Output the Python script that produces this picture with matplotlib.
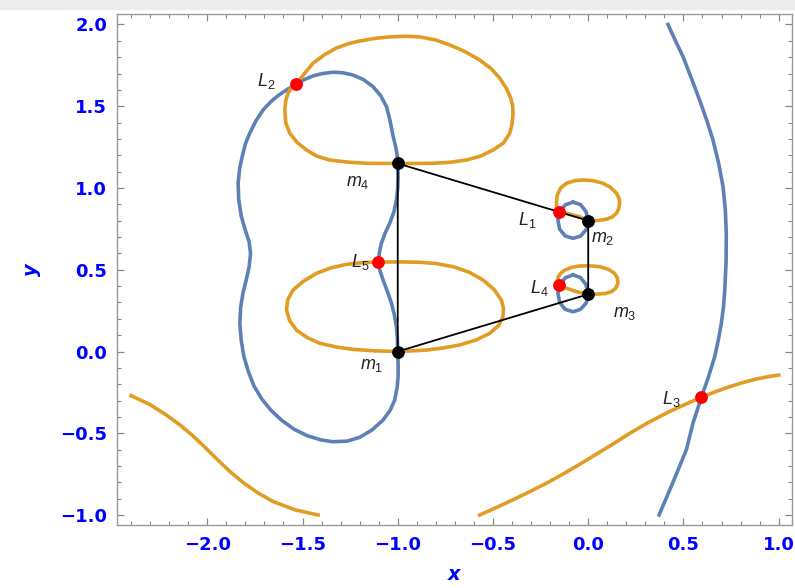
import matplotlib
matplotlib.use('Agg')
import matplotlib.pyplot as plt
from matplotlib.ticker import MultipleLocator
from matplotlib.patches import Rectangle

plt.rcParams['mathtext.fontset'] = 'custom'
plt.rcParams['mathtext.it'] = 'Liberation Sans:italic'
plt.rcParams['mathtext.rm'] = 'Liberation Sans'

# primaries (m1..m4) and equilibrium points (L1..L5)
m_x = [-1.0, 0.0, 0.0, -1.0]
m_y = [0.0, 0.8, 0.35, 1.15]
L_x = [-0.153, -1.532, 0.594, -0.153, -1.102]
L_y = [0.851, 1.634, -0.280, 0.407, 0.547]

# label positions
m_lab_x = [-1.138, 0.076, 0.192, -1.210]
m_lab_y = [-0.083, 0.694, 0.235, 1.039]
L_lab_x = [-0.318, -1.689, 0.437, -0.255, -1.199]
L_lab_y = [0.804, 1.654, -0.292, 0.388, 0.549]

# blue curve (first function)
blue_big_x = [-1.0, -1.003, -1.011, -1.025, -1.040, -1.059, -1.090, -1.130, -1.180, -1.235,
              -1.290, -1.340, -1.395, -1.445, -1.490, -1.532, -1.580, -1.625, -1.667, -1.707,
              -1.745, -1.777, -1.800, -1.815, -1.830, -1.838, -1.835, -1.822, -1.800, -1.780,
              -1.773, -1.780, -1.795, -1.812, -1.825, -1.829, -1.822, -1.808, -1.785, -1.755,
              -1.714, -1.665, -1.610, -1.545, -1.475, -1.405, -1.340, -1.265, -1.200, -1.135,
              -1.077, -1.040, -1.016, -1.003, -0.998, -0.998, -1.0, -1.002, -1.007, -1.018,
              -1.033, -1.055, -1.077, -1.095, -1.102, -1.097, -1.086, -1.066, -1.042, -1.020,
              -1.007, -1.000, -0.998, -1.0]
blue_big_y = [1.15, 1.20, 1.253, 1.320, 1.410, 1.497, 1.565, 1.620, 1.663, 1.691,
              1.705, 1.708, 1.700, 1.685, 1.663, 1.634, 1.603, 1.568, 1.527, 1.477,
              1.410, 1.335, 1.270, 1.200, 1.120, 1.030, 0.930, 0.830, 0.740, 0.670,
              0.600, 0.520, 0.440, 0.360, 0.270, 0.170, 0.070, -0.030, -0.120, -0.210,
              -0.290, -0.360, -0.420, -0.475, -0.515, -0.540, -0.552, -0.548, -0.525, -0.480,
              -0.419, -0.360, -0.297, -0.220, -0.154, -0.080, 0.0, 0.080, 0.152, 0.225,
              0.295, 0.370, 0.437, 0.500, 0.547, 0.600, 0.662, 0.725, 0.784, 0.855,
              0.927, 1.000, 1.069, 1.15]
blue_up_x = [-0.080, -0.041, -0.012, 0.0, -0.010, -0.040, -0.080, -0.121, -0.150, -0.159,
             -0.148, -0.119, -0.080]
blue_up_y = [0.913, 0.899, 0.857, 0.800, 0.746, 0.706, 0.692, 0.707, 0.748, 0.804,
             0.858, 0.898, 0.913]
blue_low_x = [-0.080, -0.041, -0.012, 0.0, -0.010, -0.040, -0.080, -0.121, -0.150, -0.159,
              -0.148, -0.119, -0.080]
blue_low_y = [0.468, 0.453, 0.410, 0.350, 0.298, 0.258, 0.243, 0.258, 0.300, 0.356,
              0.412, 0.452, 0.468]
blue_right_x = [0.419, 0.458, 0.498, 0.542, 0.585, 0.622, 0.655, 0.685, 0.708, 0.720,
                0.725, 0.724, 0.717, 0.710, 0.699, 0.683, 0.664, 0.629, 0.594, 0.572,
                0.550, 0.515, 0.445, 0.372]
blue_right_y = [2.0, 1.900, 1.803, 1.670, 1.538, 1.415, 1.294, 1.150, 1.008, 0.865,
                0.723, 0.550, 0.376, 0.270, 0.172, 0.070, -0.032, -0.164, -0.280, -0.360,
                -0.439, -0.602, -0.800, -1.0]

# orange curve (second function)
orange_top_x = [-1.532, -1.490, -1.445, -1.385, -1.322, -1.260, -1.199, -1.120, -1.042, -0.960,
                -0.885, -0.800, -0.727, -0.645, -0.570, -0.510, -0.465, -0.430, -0.407, -0.396,
                -0.395, -0.400, -0.412, -0.445, -0.500, -0.565, -0.639, -0.725, -0.815, -0.910,
                -1.0, -1.080, -1.164, -1.260, -1.357, -1.425, -1.479, -1.530, -1.567, -1.588,
                -1.593, -1.588, -1.576, -1.560, -1.532]
orange_top_y = [1.634, 1.700, 1.763, 1.815, 1.856, 1.882, 1.899, 1.915, 1.924, 1.928,
                1.924, 1.905, 1.875, 1.833, 1.783, 1.730, 1.673, 1.610, 1.550, 1.500,
                1.447, 1.390, 1.335, 1.275, 1.232, 1.195, 1.171, 1.157, 1.151, 1.150,
                1.15, 1.150, 1.151, 1.158, 1.171, 1.195, 1.232, 1.280, 1.335, 1.400,
                1.477, 1.535, 1.579, 1.610, 1.634]
orange_mid_x = [-1.0, -0.925, -0.849, -0.760, -0.675, -0.590, -0.517, -0.470, -0.447, -0.445,
                -0.456, -0.495, -0.552, -0.625, -0.710, -0.800, -0.885, -1.0, -1.102, -1.190,
                -1.269, -1.350, -1.427, -1.495, -1.550, -1.578, -1.584, -1.568, -1.532, -1.475,
                -1.409, -1.320, -1.235, -1.120, -1.0]
orange_mid_y = [0.0, 0.004, 0.009, 0.022, 0.040, 0.070, 0.111, 0.160, 0.213, 0.265,
                0.315, 0.380, 0.437, 0.485, 0.519, 0.538, 0.546, 0.548, 0.547, 0.543,
                0.533, 0.512, 0.478, 0.430, 0.376, 0.315, 0.254, 0.190, 0.131, 0.085,
                0.050, 0.027, 0.013, 0.004, 0.0]
orange_up_x = [0.0, -0.045, -0.114, -0.153, -0.166, -0.167, -0.163, -0.145, -0.114, -0.070,
               -0.027, 0.025, 0.078, 0.118, 0.148, 0.163, 0.165, 0.160, 0.148, 0.125,
               0.096, 0.050, 0.0]
orange_up_y = [0.80, 0.824, 0.845, 0.851, 0.880, 0.910, 0.955, 1.000, 1.029, 1.045,
               1.049, 1.045, 1.029, 1.003, 0.968, 0.935, 0.906, 0.872, 0.845, 0.822,
               0.809, 0.801, 0.80]
orange_low_x = [0.0, -0.062, -0.114, -0.153, -0.162, -0.159, -0.145, -0.123, -0.085, -0.045,
                0.005, 0.060, 0.105, 0.139, 0.153, 0.156, 0.145, 0.122, 0.090, 0.060, 0.0]
orange_low_y = [0.35, 0.366, 0.387, 0.407, 0.428, 0.452, 0.478, 0.498, 0.515, 0.523,
                0.524, 0.519, 0.503, 0.478, 0.450, 0.417, 0.388, 0.366, 0.355, 0.352, 0.35]
orange_left_x = [-2.4, -2.300, -2.214, -2.140, -2.075, -2.010, -1.952, -1.880, -1.812, -1.735,
                 -1.655, -1.540, -1.418]
orange_left_y = [-0.27, -0.325, -0.389, -0.452, -0.516, -0.588, -0.655, -0.735, -0.801, -0.864,
                 -0.917, -0.968, -1.0]
orange_right_x = [-0.570, -0.480, -0.395, -0.305, -0.219, -0.130, -0.045, 0.030, 0.100, 0.160,
                  0.218, 0.310, 0.411, 0.500, 0.594, 0.670, 0.743, 0.815, 0.883, 0.940, 1.0]
orange_right_y = [-1.0, -0.953, -0.907, -0.856, -0.805, -0.748, -0.690, -0.637, -0.587, -0.544,
                  -0.500, -0.438, -0.376, -0.328, -0.280, -0.245, -0.215, -0.189, -0.168, -0.155, -0.144]

blue = '#5e81b5'
orange = '#e19c24'

fig = plt.figure(figsize=(7.95, 5.88), dpi=100)
fig.patches.append(Rectangle((0, 1 - 9 / 588), 1, 9 / 588, transform=fig.transFigure,
                             color='#ececec', zorder=0))
ax = fig.add_axes([117 / 795, 63 / 588, 675 / 795, 511 / 588])

lw = 2.6
for xs, ys in [(blue_big_x, blue_big_y), (blue_up_x, blue_up_y),
               (blue_low_x, blue_low_y), (blue_right_x, blue_right_y)]:
    ax.plot(xs, ys, color=blue, lw=lw, solid_joinstyle='round', zorder=2)
for xs, ys in [(orange_top_x, orange_top_y), (orange_mid_x, orange_mid_y),
               (orange_up_x, orange_up_y), (orange_low_x, orange_low_y),
               (orange_left_x, orange_left_y), (orange_right_x, orange_right_y)]:
    ax.plot(xs, ys, color=orange, lw=lw, solid_joinstyle='round', zorder=3)

# configuration of the primaries
order = [0, 3, 1, 2, 0]
ax.plot([m_x[i] for i in order], [m_y[i] for i in order], color='black', lw=1.3, zorder=4)

ax.scatter(L_x, L_y, s=85, color='red', zorder=5, linewidths=0)
ax.scatter(m_x, m_y, s=85, color='black', zorder=5, linewidths=0)

for i in range(4):
    ax.text(m_lab_x[i], m_lab_y[i], r'$m_{%d}$' % (i + 1), fontsize=13,
            ha='center', va='center', color='#222222')
for i in range(5):
    ax.text(L_lab_x[i], L_lab_y[i], r'$L_{%d}$' % (i + 1), fontsize=13,
            ha='center', va='center', color='#222222')

ax.set_xlim(-2.474, 1.07)
ax.set_ylim(-1.061, 2.064)
ax.xaxis.set_major_locator(MultipleLocator(0.5))
ax.xaxis.set_minor_locator(MultipleLocator(0.1))
ax.yaxis.set_major_locator(MultipleLocator(0.5))
ax.yaxis.set_minor_locator(MultipleLocator(0.1))
ax.tick_params(which='both', direction='in', top=True, right=True, color='#888888')
ax.tick_params(which='major', length=5, width=0.9)
ax.tick_params(which='minor', length=3, width=0.8)
ax.tick_params(axis='x', pad=8)
ax.tick_params(axis='y', pad=7)
for lab in ax.get_xticklabels() + ax.get_yticklabels():
    lab.set_fontweight('bold')
    lab.set_fontsize(13)
    lab.set_color('blue')
for s in ax.spines.values():
    s.set_color('#999999')
    s.set_linewidth(1.0)

ax.set_xlabel('x', fontsize=14, fontweight='bold', fontstyle='italic', color='blue', labelpad=8)
ax.set_ylabel('y', fontsize=14, fontweight='bold', fontstyle='italic', color='blue', labelpad=14)

fig.savefig('out.png', dpi=100)
